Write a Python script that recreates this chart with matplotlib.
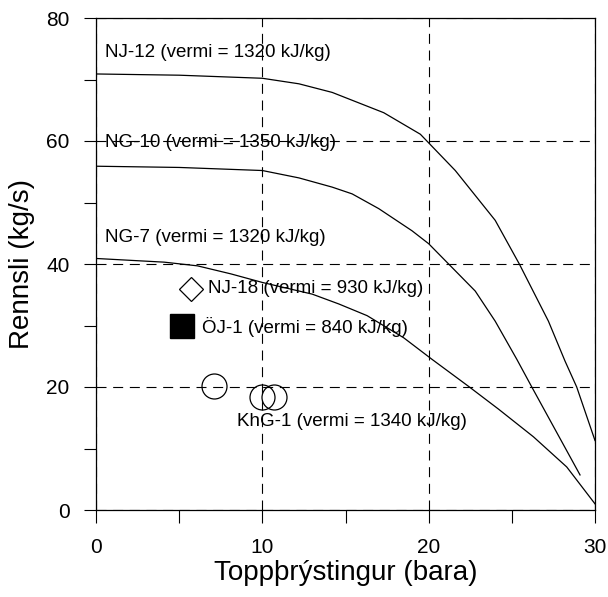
import matplotlib
matplotlib.use("Agg")
import matplotlib.pyplot as plt
from matplotlib.ticker import MultipleLocator

plt.rcParams['font.family'] = ['Liberation Sans', 'DejaVu Sans']

# deliverability curves
nj12_x = [0, 5, 10, 12.2, 14.2, 17.3, 19.5, 21.6, 24, 25.45, 27.2, 28.2, 28.9, 30]
nj12_y = [70.9, 70.7, 70.2, 69.3, 67.9, 64.6, 61.1, 55.2, 47.1, 40, 30.7, 24.2, 20, 11.3]

ng10_x = [0, 5, 10, 12.2, 14.2, 15.4, 17.0, 19.0, 20, 21.2, 22.8, 24.0, 25.3, 26.2, 29.1]
ng10_y = [55.9, 55.7, 55.2, 54.0, 52.5, 51.4, 49.0, 45.4, 43.3, 40, 35.6, 30.7, 24.5, 20, 5.7]

ng7_x = [0, 4.1, 6.1, 8.1, 10, 13, 14.6, 16.3, 18.5, 20.2, 22.4, 24.2, 26.3, 28.3, 30]
ng7_y = [40.9, 40.3, 39.7, 38.4, 37.0, 35.1, 33.5, 31.6, 28.0, 24.5, 20.1, 16.4, 11.9, 7.0, 1.0]

# single wells
nj18_x, nj18_y = [5.7], [35.9]
oj1_x, oj1_y = [5.15], [29.9]
khg1_x = [7.1, 10.0, 10.7]
khg1_y = [20.1, 18.4, 18.4]

labels = [
    ("NJ-12 (vermi = 1320 kJ/kg)", 0.55, 74.4),
    ("NG-10 (vermi = 1350 kJ/kg)", 0.55, 59.8),
    ("NG-7 (vermi = 1320 kJ/kg)", 0.55, 44.3),
    ("NJ-18 (vermi = 930 kJ/kg)", 6.75, 36.0),
    ("ÖJ-1 (vermi = 840 kJ/kg)", 6.35, 29.8),
    ("KhG-1 (vermi = 1340 kJ/kg)", 8.5, 14.4),
]

fig = plt.figure(figsize=(6.08, 5.97), dpi=100)
ax = fig.add_axes([96 / 608, 87 / 597, 499 / 608, 492 / 597])

for xs, ys in [(nj12_x, nj12_y), (ng10_x, ng10_y), (ng7_x, ng7_y)]:
    ax.plot(xs, ys, color='black', linewidth=0.9, zorder=3)

ax.plot(nj18_x, nj18_y, linestyle='none', marker='D', markersize=12.5,
        markerfacecolor='white', markeredgecolor='black', markeredgewidth=0.9, zorder=4)
ax.plot(oj1_x, oj1_y, linestyle='none', marker='s', markersize=17,
        markerfacecolor='black', markeredgecolor='black', zorder=4)
ax.plot(khg1_x, khg1_y, linestyle='none', marker='o', markersize=18,
        markerfacecolor='none', markeredgecolor='black', markeredgewidth=0.9, zorder=4)

for txt, x, y in labels:
    ax.text(x, y, txt, fontsize=13.5, va='center', ha='left', zorder=5)

ax.set_xlim(0, 30)
ax.set_ylim(0, 80)
ax.xaxis.set_major_locator(MultipleLocator(10))
ax.xaxis.set_minor_locator(MultipleLocator(5))
ax.yaxis.set_major_locator(MultipleLocator(20))
ax.yaxis.set_minor_locator(MultipleLocator(10))

ax.tick_params(which='both', direction='out', length=9, width=0.8, color='black')
ax.tick_params(axis='x', which='major', labelsize=15, pad=11)
ax.tick_params(axis='y', which='major', labelsize=15, pad=10)

ax.grid(True, which='major', color='black', linewidth=0.8, linestyle=(0, (9, 6)))
for s in ax.spines.values():
    s.set_linewidth(0.9)

ax.set_xlabel("Toppþrýstingur (bara)", fontsize=20, labelpad=2)
ax.set_ylabel("Rennsli (kg/s)", fontsize=20, labelpad=8)

fig.savefig("out.png", dpi=100)
